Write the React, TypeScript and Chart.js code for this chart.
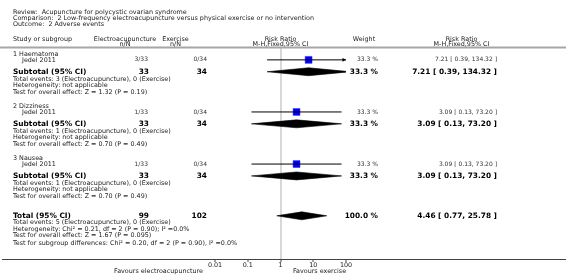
import React, { useEffect, useRef } from 'react';
import { Chart, registerables } from 'chart.js';
Chart.register(...registerables);

// ---------- data ----------
const reviewTitle = 'Review:  Acupuncture for polycystic ovarian syndrome';
const comparisonTitle = 'Comparison:  2 Low-frequency electroacupuncture versus physical exercise or no intervention';
const outcomeTitle = 'Outcome:  2 Adverse events';

const subgroups = ['1 Haematoma', '2 Dizziness', '3 Nausea'];
const studies = ['Jedel 2011', 'Jedel 2011', 'Jedel 2011'];
const eaEvents = [3, 1, 1];
const eaTotals = [33, 33, 33];
const exEvents = [0, 0, 0];
const exTotals = [34, 34, 34];
const studyRR = [7.21, 3.09, 3.09];
const studyLow = [0.39, 0.13, 0.13];
const studyHigh = [134.32, 73.2, 73.2];
const studyWeight = [33.3, 33.3, 33.3];

const subRR = [7.21, 3.09, 3.09];
const subLow = [0.39, 0.13, 0.13];
const subHigh = [134.32, 73.2, 73.2];
const subWeight = [33.3, 33.3, 33.3];
const subEaTotal = [33, 33, 33];
const subExTotal = [34, 34, 34];
const subEaEvents = [3, 1, 1];
const subExEvents = [0, 0, 0];
const subHeterogeneity = ['not applicable', 'not applicable', 'not applicable'];
const subOverall = ['Z = 1.32 (P = 0.19)', 'Z = 0.70 (P = 0.49)', 'Z = 0.70 (P = 0.49)'];

const totalRR = [4.46];
const totalLow = [0.77];
const totalHigh = [25.78];
const totalWeight = [100.0];
const totalEa = [99];
const totalEx = [102];
const totalEaEvents = [5];
const totalExEvents = [0];
const totalHeterogeneity = 'Chi\u00B2 = 0.21, df = 2 (P = 0.90); I\u00B2 =0.0%';
const totalOverall = 'Z = 1.67 (P = 0.095)';
const subgroupDifferences = 'Chi\u00B2 = 0.20, df = 2 (P = 0.90), I\u00B2 =0.0%';

const axisTicks = [0.01, 0.1, 1, 10, 100];
const axisTickLabels = ['0.01', '0.1', '1', '10', '100'];
const favoursLeft = 'Favours electroacupuncture';
const favoursRight = 'Favours exercise';

// ---------- layout (in text-line units) ----------
const W = 566;
const H = 276;
const Y_MAX = 32;
const GROUP_START = 0.95;
const GROUP_PERIOD = 7.9;
const OFF_STUDY = 0.85;
const OFF_SUB = 2.65;
const OFF_NOTES = 3.75;
const TOTAL_ROW = 25.45;
const DIAMOND_HALF = 0.6;

const groupRow = (g: number) => GROUP_START + GROUP_PERIOD * g;
const studyRow = (g: number) => groupRow(g) + OFF_STUDY;
const subRow = (g: number) => groupRow(g) + OFF_SUB;

const FONT = '"DejaVu Sans", Verdana, sans-serif';
const fmtRR = (e: number, l: number, h: number) => `${e.toFixed(2)} [ ${l.toFixed(2)}, ${h.toFixed(2)} ]`;
const fmtW = (w: number) => `${w.toFixed(1)} %`;

const COL = {
  left: 13,
  indent: 22,
  eaCenter: 125,
  eaRight: 149,
  exCenter: 175.5,
  exRight: 207,
  weightCenter: 364,
  weightRight: 378,
  rrCenter: 461.5,
  rrRight: 497,
};

function diamond(est: number, lo: number, hi: number, row: number) {
  return [
    { x: lo, y: row },
    { x: est, y: row - DIAMOND_HALF },
    { x: hi, y: row },
    { x: est, y: row + DIAMOND_HALF },
    { x: lo, y: row },
  ];
}

const forestPlugin = {
  id: 'forestText',
  afterDatasetsDraw(chart: any) {
    const { ctx, chartArea, scales } = chart;
    const xs = scales.x;
    const ys = scales.y;
    ctx.save();
    ctx.fillStyle = '#000';
    studies.forEach((_, i) => {
      if (studyHigh[i] > xs.max) {
        const y = ys.getPixelForValue(studyRow(i));
        const xr = chartArea.right;
        ctx.beginPath();
        ctx.moveTo(xr, y);
        ctx.lineTo(xr - 3.5, y - 1.8);
        ctx.lineTo(xr - 3.5, y + 1.8);
        ctx.closePath();
        ctx.fill();
      }
    });
    ctx.restore();
  },
  afterDraw(chart: any) {
    const { ctx, chartArea, scales } = chart;
    const ys = scales.y;
    const py = (u: number) => ys.getPixelForValue(u);
    const text = (s: string, x: number, u: number, align: CanvasTextAlign, font: string, color = '#1a1a1a') => {
      ctx.font = font;
      ctx.fillStyle = color;
      ctx.textAlign = align;
      ctx.textBaseline = 'middle';
      ctx.fillText(s, x, py(u));
    };
    const normal = `6.4px ${FONT}`;
    const small = `6px ${FONT}`;
    const bold = `bold 7.4px ${FONT}`;

    ctx.save();
    // header lines
    ctx.strokeStyle = '#a6a6a6';
    ctx.lineWidth = 2;
    ctx.beginPath();
    ctx.moveTo(0, chartArea.top - 0.5);
    ctx.lineTo(W, chartArea.top - 0.5);
    ctx.stroke();
    // bottom axis line
    ctx.strokeStyle = '#444';
    ctx.lineWidth = 1;
    ctx.beginPath();
    ctx.moveTo(2, chartArea.bottom + 0.5);
    ctx.lineTo(W, chartArea.bottom + 0.5);
    ctx.stroke();

    // titles
    text(reviewTitle, COL.left, -5.4, 'left', normal);
    text(comparisonTitle, COL.left, -4.5, 'left', normal);
    text(outcomeTitle, COL.left, -3.6, 'left', normal);

    // column headers
    const plotCenter = (chartArea.left + chartArea.right) / 2;
    text('Study or subgroup', COL.left, -1.35, 'left', normal);
    text('Electroacupuncture', COL.eaCenter, -1.35, 'center', normal);
    text('n/N', COL.eaCenter, -0.55, 'center', normal);
    text('Exercise', COL.exCenter, -1.35, 'center', normal);
    text('n/N', COL.exCenter, -0.55, 'center', normal);
    text('Risk Ratio', plotCenter, -1.35, 'center', normal);
    text('M-H,Fixed,95% CI', plotCenter, -0.55, 'center', normal);
    text('Weight', COL.weightCenter, -1.35, 'center', normal);
    text('Risk Ratio', COL.rrCenter, -1.35, 'center', normal);
    text('M-H,Fixed,95% CI', COL.rrCenter, -0.55, 'center', normal);

    subgroups.forEach((name, g) => {
      text(name, COL.left, groupRow(g), 'left', normal);
      const sr = studyRow(g);
      text(studies[g], COL.indent, sr, 'left', normal);
      text(`${eaEvents[g]}/${eaTotals[g]}`, COL.eaRight - 1, sr, 'right', small, '#333');
      text(`${exEvents[g]}/${exTotals[g]}`, COL.exRight, sr, 'right', small, '#333');
      text(fmtW(studyWeight[g]), COL.weightRight, sr, 'right', small, '#333');
      text(fmtRR(studyRR[g], studyLow[g], studyHigh[g]), COL.rrRight, sr, 'right', small, '#333');

      const br = subRow(g);
      text('Subtotal (95% CI)', COL.left, br, 'left', bold, '#000');
      text(String(subEaTotal[g]), COL.eaRight, br, 'right', bold, '#000');
      text(String(subExTotal[g]), COL.exRight, br, 'right', bold, '#000');
      text(fmtW(subWeight[g]), COL.weightRight, br, 'right', bold, '#000');
      text(fmtRR(subRR[g], subLow[g], subHigh[g]), COL.rrRight, br, 'right', bold, '#000');

      const nr = groupRow(g) + OFF_NOTES;
      text(`Total events: ${subEaEvents[g]} (Electroacupuncture), ${subExEvents[g]} (Exercise)`, COL.left, nr, 'left', normal);
      text(`Heterogeneity: ${subHeterogeneity[g]}`, COL.left, nr + 1, 'left', normal);
      text(`Test for overall effect: ${subOverall[g]}`, COL.left, nr + 2, 'left', normal);
    });

    text('Total (95% CI)', COL.left, TOTAL_ROW, 'left', bold, '#000');
    text(String(totalEa[0]), COL.eaRight, TOTAL_ROW, 'right', bold, '#000');
    text(String(totalEx[0]), COL.exRight, TOTAL_ROW, 'right', bold, '#000');
    text(fmtW(totalWeight[0]), COL.weightRight, TOTAL_ROW, 'right', bold, '#000');
    text(fmtRR(totalRR[0], totalLow[0], totalHigh[0]), COL.rrRight, TOTAL_ROW, 'right', bold, '#000');
    text(`Total events: ${totalEaEvents[0]} (Electroacupuncture), ${totalExEvents[0]} (Exercise)`, COL.left, TOTAL_ROW + 1, 'left', normal);
    text(`Heterogeneity: ${totalHeterogeneity}`, COL.left, TOTAL_ROW + 2, 'left', normal);
    text(`Test for overall effect: ${totalOverall}`, COL.left, TOTAL_ROW + 3, 'left', normal);
    text(`Test for subgroup differences: ${subgroupDifferences}`, COL.left, TOTAL_ROW + 4.1, 'left', normal);

    // favours labels
    ctx.font = normal;
    ctx.fillStyle = '#1a1a1a';
    ctx.textBaseline = 'middle';
    ctx.textAlign = 'right';
    ctx.fillText(favoursLeft, 203, 271);
    ctx.textAlign = 'left';
    ctx.fillText(favoursRight, 293, 271);
    ctx.restore();
  },
};

export default function App() {
  const ref = useRef<HTMLCanvasElement | null>(null);
  useEffect(() => {
    if (!ref.current) return;
    const datasets: any[] = [];
    // CI lines
    studies.forEach((_, i) => {
      datasets.push({
        type: 'line',
        data: [
          { x: studyLow[i], y: studyRow(i) },
          { x: studyHigh[i], y: studyRow(i) },
        ],
        borderColor: '#000',
        borderWidth: 1,
        pointRadius: 0,
        fill: false,
        order: 0,
      });
    });
    // squares
    datasets.push({
      type: 'scatter',
      data: studies.map((_, i) => ({ x: studyRR[i], y: studyRow(i) })),
      pointStyle: 'rect',
      pointRadius: 4.9,
      backgroundColor: '#0000ff',
      borderColor: '#2f2fff',
      borderWidth: 0.5,
      order: 1,
    });
    // diamonds
    const diamonds = [
      ...subRR.map((e, g) => diamond(e, subLow[g], subHigh[g], subRow(g))),
      diamond(totalRR[0], totalLow[0], totalHigh[0], TOTAL_ROW),
    ];
    diamonds.forEach((d) => {
      datasets.push({
        type: 'line',
        data: d,
        borderColor: '#000',
        backgroundColor: '#000',
        borderWidth: 0.6,
        pointRadius: 0,
        fill: 'shape',
        tension: 0,
        order: 1,
      });
    });

    const chart = new Chart(ref.current, {
      type: 'scatter',
      data: { datasets },
      options: {
        animation: false,
        responsive: false,
        devicePixelRatio: 1,
        events: [],
        layout: { padding: { left: 215, right: 220, top: 48, bottom: 0 } },
        plugins: { legend: { display: false }, tooltip: { enabled: false } },
        scales: {
          x: {
            type: 'logarithmic',
            min: axisTicks[0],
            max: axisTicks[axisTicks.length - 1],
            position: 'bottom',
            afterBuildTicks: (s: any) => {
              s.ticks = axisTicks.map((v) => ({ value: v }));
            },
            afterFit: (s: any) => {
              s.height = 17;
            },
            ticks: {
              callback: (_v: any, i: number) => axisTickLabels[i],
              font: { family: FONT, size: 6.4 },
              color: '#1a1a1a',
              padding: 0,
              maxRotation: 0,
              autoSkip: false,
            },
            grid: {
              color: (c: any) => (c.tick && c.tick.value === 1 ? '#d8d8d8' : 'rgba(0,0,0,0)'),
              lineWidth: 2,
              tickColor: '#444',
              tickLength: 3,
              tickWidth: 1,
            },
            border: { display: false },
          },
          y: {
            type: 'linear',
            display: false,
            reverse: true,
            min: 0,
            max: Y_MAX,
          },
        },
      },
      plugins: [forestPlugin],
    } as any);
    return () => chart.destroy();
  }, []);

  return (
    <div style={{ position: 'absolute', left: 0, top: 0, width: W, height: H, background: '#fff' }}>
      <canvas ref={ref} width={W} height={H} style={{ display: 'block' }} />
    </div>
  );
}
